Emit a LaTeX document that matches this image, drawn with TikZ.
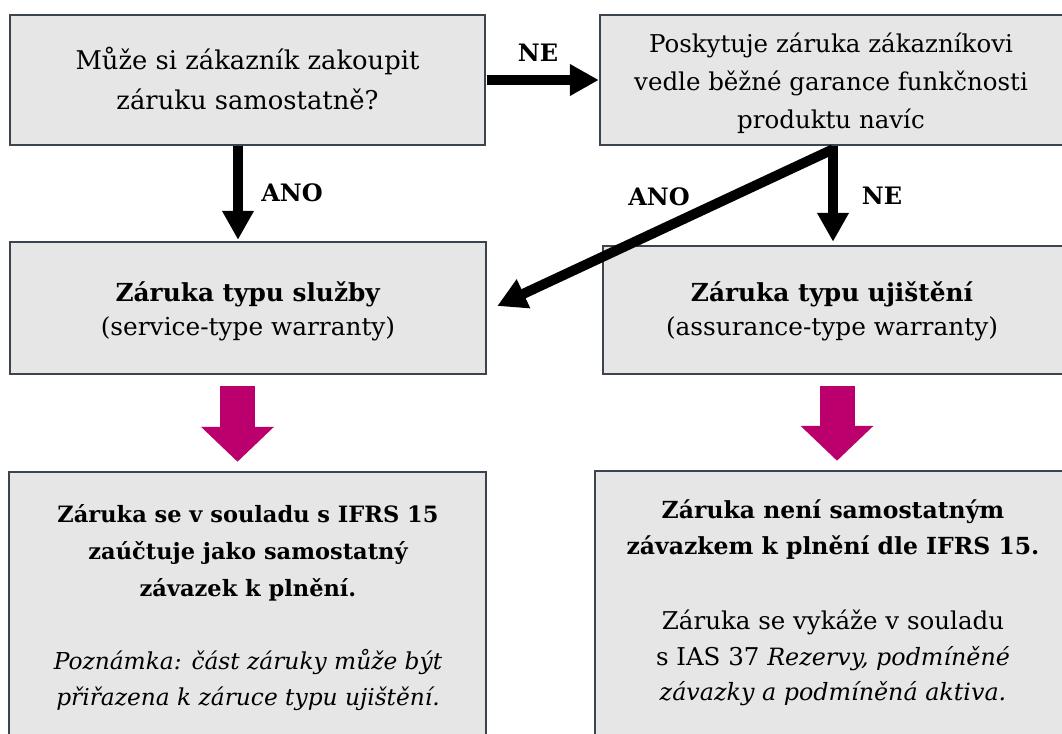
\documentclass[tikz,border=0pt]{standalone}
\usepackage{fontspec}
\setmainfont{DejaVu Serif}
\usetikzlibrary{arrows.meta,calc}
\definecolor{boxfill}{RGB}{230,230,230}
\definecolor{boxline}{RGB}{60,68,80}
\definecolor{magarrow}{RGB}{187,0,110}
\begin{document}
\begin{tikzpicture}[x=1pt,y=-1pt,
  box/.style={draw=boxline,fill=boxfill,line width=2.5pt,rectangle,inner sep=0pt},
  txt/.style={align=center,inner sep=0pt},
  lbl/.style={font=\fontsize{24}{28}\selectfont\bfseries,inner sep=0pt},
  blk/.style={line width=10pt,draw=black,-{Triangle[width=30pt,length=29pt]}},
  mag/.style={line width=35pt,draw=magarrow,-{Triangle[width=71pt,length=35pt]}}
]
\useasboundingbox (0,0) rectangle (1062,733);
\clip (0,0) rectangle (1062,733);
\fill[white] (0,0) rectangle (1062,733);
% boxes
\node[box,minimum width=475pt,minimum height=130pt] (b1) at (247.5,80) {};
\node[box,minimum width=475pt,minimum height=130pt] (b2) at (837.5,80) {};
\node[box,minimum width=476pt,minimum height=132pt] (b3) at (248,308) {};
\node[box,minimum width=472pt,minimum height=128pt] (b4) at (839,310) {};
\node[box,minimum width=477pt,minimum height=290pt] (b5) at (247.5,617) {};
\node[box,minimum width=480pt,minimum height=290pt] (b6) at (835,616) {};
% texts
\node[txt,font=\fontsize{25.8}{40}\selectfont] (t1) at (247.5,78) {Může si zákazník zakoupit\\záruku samostatně?};
\node[txt,font=\fontsize{24.5}{38}\selectfont] (t2) at (831,83) {Poskytuje záruka zákazníkovi\\vedle běžné garance funkčnosti\\produktu navíc};
\node[txt,font=\fontsize{24.8}{34}\selectfont] (t3) at (248,311) {\textbf{Záruka typu služby}\\(service-type warranty)};
\node[txt,font=\fontsize{24.8}{34}\selectfont] (t4) at (832,311) {\textbf{Záruka typu ujištění}\\(assurance-type warranty)};
\node[txt,font=\fontsize{22.5}{37}\selectfont\bfseries] (t5a) at (248,553) {Záruka se v souladu s IFRS 15\\zaúčtuje jako samostatný\\závazek k plnění.};
\node[txt,font=\fontsize{23.3}{36}\selectfont\itshape] (t5b) at (248,680) {Poznámka: část záruky může být\\přiřazena k záruce typu ujištění.};
\node[txt,font=\fontsize{23.5}{36}\selectfont\bfseries] (t6a) at (833,530) {Záruka není samostatným\\závazkem k plnění dle IFRS 15.};
\node[txt,font=\fontsize{24.5}{35.5}\selectfont] (t6b) at (833,658) {Záruka se vykáže v souladu\\s IAS 37 {\fontsize{23.8}{35.5}\selectfont\itshape Rezervy, podmíněné}\\{\fontsize{23.8}{35.5}\selectfont\itshape závazky a podmíněná aktiva.}};
% connectors
\draw[blk] ($(b1.east)+(1,0)$) -- (b2.west);
\node[lbl] (lne1) at (538,53) {NE};
\draw[blk] ($(b1.south)+(-9.5,0)$) -- ($(b3.north)+(-10,-1)$);
\node[lbl] (lano1) at (292,193) {ANO};
\coordinate (split) at ($(b2.south)+(-4.5,3)$);
\draw[blk] ($(b2.south)+(-4.5,0)$) -- ($(b4.north)+(-6,-3)$);
\node[lbl] (lne2) at (882,196) {NE};
\draw[blk] (split) -- ($(b3.east)+(10,-2)$);
\node[lbl] (lano2) at (659,197) {ANO};
\draw[mag] ($(b3.south)+(-10.5,11)$) -- ($(b5.north)+(-10,-9)$);
\draw[mag] ($(b4.south)+(-2,11)$) -- ($(b6.north)+(2,-9)$);
\end{tikzpicture}
\end{document}
